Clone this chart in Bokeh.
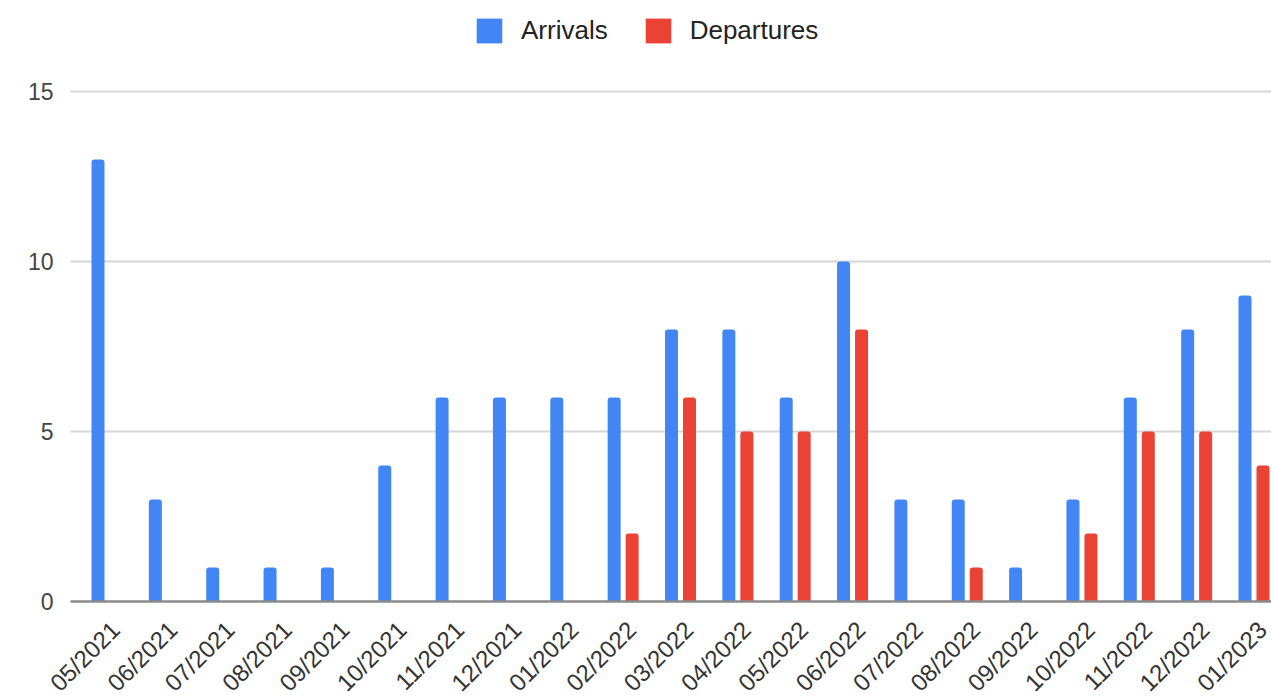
from bokeh.plotting import figure
from bokeh.models import Range1d, Legend, LegendItem, ColumnDataSource
from bokeh.core.properties import value
from bokeh.embed import file_html
from bokeh.resources import INLINE

months = ["05/2021", "06/2021", "07/2021", "08/2021", "09/2021", "10/2021", "11/2021",
          "12/2021", "01/2022", "02/2022", "03/2022", "04/2022", "05/2022", "06/2022",
          "07/2022", "08/2022", "09/2022", "10/2022", "11/2022", "12/2022", "01/2023"]
arrivals = [13, 3, 1, 1, 1, 4, 6, 6, 6, 6, 8, 8, 6, 10, 3, 3, 1, 3, 6, 8, 9]
departures = [0, 0, 0, 0, 0, 0, 0, 0, 0, 2, 6, 5, 5, 8, 0, 1, 0, 2, 5, 5, 4]
y_ticks = [0, 5, 10, 15]
y_tick_labels = ["0", "5", "10", "15"]

BLUE = "#4285F4"
RED = "#EA4335"
FONT = "Liberation Sans"

W, H = 1271, 699
# layout (pixels): category 0 label anchor, category step, plot baseline, y scale
X0_PX, STEP_PX = 115.0, 57.35
BASE_PX, YPX = 601.0, 34.0
PLOT_LEFT_PX = 70.0


def px_x(px):
    return (px - X0_PX) / STEP_PX


def px_y(py):
    return (BASE_PX - py) / YPX


idx = list(range(len(months)))
blue_x = [i - 17.5 / STEP_PX for i in idx]
red_x = [i + 0.5 / STEP_PX for i in idx]
bar_w = 13 / STEP_PX

p = figure(width=W, height=H, output_backend="svg", toolbar_location=None,
           x_range=Range1d(px_x(0), px_x(W)), y_range=Range1d(px_y(H), px_y(0)),
           min_border_left=0, min_border_right=0, min_border_top=0, min_border_bottom=0)
p.outline_line_color = None
p.background_fill_color = "white"
p.border_fill_color = "white"
p.axis.visible = False
p.grid.visible = False

# gridlines and baseline
grid_y = [t for t in y_ticks if t != 0]
p.segment(x0=[px_x(PLOT_LEFT_PX)] * len(grid_y), x1=[px_x(W)] * len(grid_y),
          y0=grid_y, y1=grid_y, line_color="#d6d6d6", line_width=2)

rb = p.vbar(x=blue_x, top=arrivals, bottom=0, width=bar_w, fill_color=BLUE, line_color=None,
            border_radius=(3, 3, 0, 0))
rr = p.vbar(x=red_x, top=departures, bottom=0, width=bar_w, fill_color=RED, line_color=None,
            border_radius=(3, 3, 0, 0))

p.segment(x0=[px_x(PLOT_LEFT_PX)], x1=[px_x(W)], y0=[0], y1=[0],
          line_color="#8a8a8a", line_width=2.5)

# y tick labels
p.text(x=[px_x(53)] * len(y_ticks), y=y_ticks, text=y_tick_labels,
       text_align="right", text_baseline="middle", text_font=value(FONT),
       text_font_size="23px", text_color="#444444")

# rotated category labels
lab_src = ColumnDataSource(dict(x=idx, y=[px_y(625)] * len(months), text=months))
p.text(x="x", y="y", text="text", source=lab_src, angle=0.785398,
       text_align="right", text_baseline="middle", text_font=value(FONT),
       text_font_size="24px", text_color="#333333")

legend = Legend(items=[LegendItem(label="Arrivals", renderers=[rb]),
                       LegendItem(label="Departures", renderers=[rr])],
                location=(473, H - 46), orientation="horizontal",
                glyph_width=32, glyph_height=31, label_standoff=16, spacing=34,
                padding=0, margin=0, border_line_color=None, background_fill_alpha=0,
                label_text_font=FONT, label_text_font_size="26px", label_text_color="#222222",
                label_height=31)
p.add_layout(legend, "center")

open("out.html", "w").write(file_html(p, INLINE))
